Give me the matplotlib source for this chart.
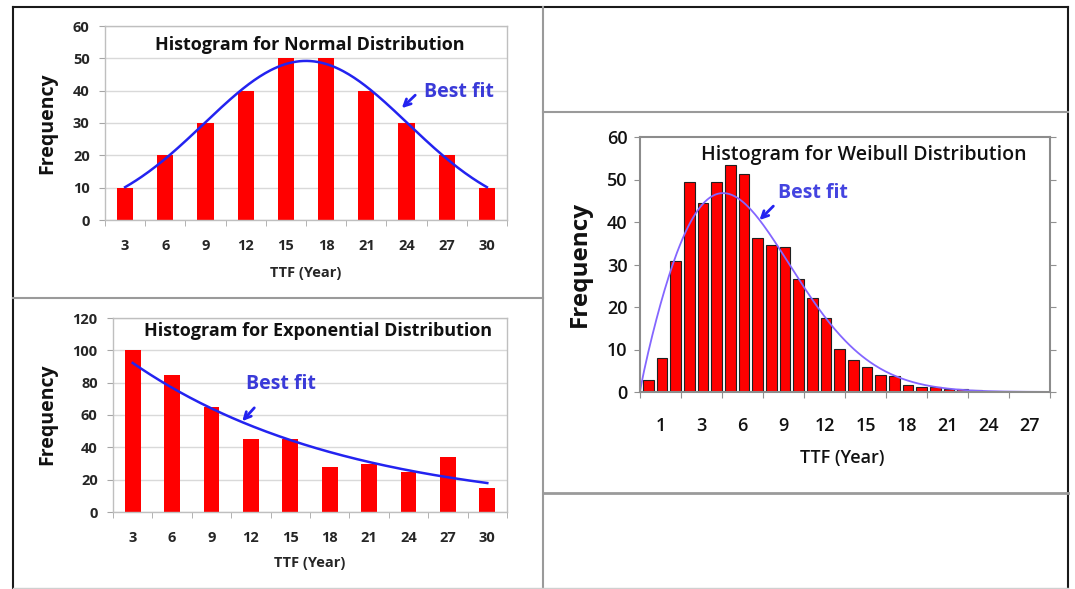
import numpy as np
import matplotlib
matplotlib.use("Agg")
import matplotlib.pyplot as plt
from matplotlib.lines import Line2D

plt.rcParams['font.family'] = ['Open Sans', 'DejaVu Sans']

W, H = 1075, 589

# ---- data ----
ttf_cats = [3, 6, 9, 12, 15, 18, 21, 24, 27, 30]
normal_freq = [10, 20, 30, 40, 50, 50, 40, 30, 20, 10]
exp_freq = [100, 85, 65, 45, 45, 28, 30, 25, 34, 15]

# weibull: one bar per year, 0..25
weibull_freq = [2.8, 7.9, 30.8, 49.4, 44.4, 49.4, 53.3, 51.3, 36.3, 34.6,
                34.2, 26.7, 22.2, 17.5, 10.2, 7.6, 6.0, 3.9, 3.8, 1.7,
                1.2, 1.2, 0.8, 0.6, 0.4]
weibull_ticklabels = ['1', '3', '6', '9', '12', '15', '18', '21', '24', '27']

# best fit parameters (estimated from the drawn curves)
normal_fit = dict(mean=16.5, sigma=7.6, peak=49.2)
exp_fit = dict(start=92.2, rate=0.0607)
weibull_fit = dict(shape=1.9, scale=9.0, peak=46.8)

RED = '#ff0000'
BLUE = '#2323f0'
TXT = '#262626'


def px_rect(x0, y0, x1, y1):
    return [x0 / W, 1 - y1 / H, (x1 - x0) / W, (y1 - y0) / H]


def fig_line(x0, y0, x1, y1, color, lw):
    fig.add_artist(Line2D([x0 / W, x1 / W], [1 - y0 / H, 1 - y1 / H],
                          transform=fig.transFigure, color=color, lw=lw))


def fig_text(x, y, s, **kw):
    fig.text(x / W, 1 - y / H, s, ha='center', va='center', **kw)


def excel_axes(ax, ymax, ystep):
    ax.set_xlim(1.5, 31.5)
    ax.set_ylim(0, ymax)
    ax.set_xticks(ttf_cats)
    ax.set_xticklabels([str(c) for c in ttf_cats])
    ax.set_xticks(np.arange(1.5, 32, 3), minor=True)
    ax.set_yticks(np.arange(0, ymax + 1, ystep))
    ax.tick_params(axis='x', which='major', length=0, pad=14,
                   labelsize=10.5, labelcolor=TXT)
    ax.tick_params(axis='x', which='minor', length=4, color='#a6a6a6',
                   direction='out')
    ax.tick_params(axis='y', length=4, color='#a6a6a6', pad=7,
                   labelsize=10.5, labelcolor=TXT)
    for lab in ax.get_xticklabels() + ax.get_yticklabels():
        lab.set_fontweight('bold')
    ax.grid(axis='y', color='#d9d9d9', lw=1)
    ax.set_axisbelow(True)
    for sp in ax.spines.values():
        sp.set_color('#bfbfbf')
        sp.set_linewidth(1)


fig = plt.figure(figsize=(W / 100, H / 100), dpi=100)

# ---- panel frames ----
fig_line(13, 7, 1068, 7, '#1a1a1a', 1.5)
fig_line(13, 7, 13, 589, '#1a1a1a', 1.5)
fig_line(1068, 7, 1068, 589, '#1a1a1a', 1.5)
fig_line(543, 7, 543, 589, '#9a9a9a', 1.5)
fig_line(13, 298, 543, 298, '#9a9a9a', 1.5)
fig_line(543, 112, 1068, 112, '#9a9a9a', 1.5)
fig_line(543, 493, 1068, 493, '#9a9a9a', 2)
fig_line(13, 588, 1068, 588, '#d0d0d0', 1)

# ---- normal ----
ax1 = fig.add_axes(px_rect(105, 26, 507, 220))
ax1.bar(ttf_cats, normal_freq, width=1.2, color=RED)
xs = np.linspace(ttf_cats[0], ttf_cats[-1], 200)
ax1.plot(xs, normal_fit['peak'] * np.exp(-(xs - normal_fit['mean']) ** 2
                                         / (2 * normal_fit['sigma'] ** 2)),
         color=BLUE, lw=1.8)
excel_axes(ax1, 60, 10)
ax1.text(0.51, 0.9, 'Histogram for Normal Distribution', transform=ax1.transAxes,
         ha='center', va='center', fontsize=13, fontweight='bold', color='#111111')
ax1.annotate('', xy=(23.5, 34), xytext=(24.8, 39.2),
             arrowprops=dict(arrowstyle='->', color=BLUE, lw=2, mutation_scale=12))
ax1.text(25.3, 39.5, 'Best fit', ha='left', va='center', fontsize=14,
         fontweight='bold', color='#3a3ad8')
fig_text(47, 123, 'Frequency', rotation=90, fontsize=14, fontweight='bold', color='#111111')
fig_text(306, 273, 'TTF (Year)', fontsize=10.5, fontweight='bold', color=TXT)

# ---- exponential ----
ax2 = fig.add_axes(px_rect(113, 318, 507, 512))
ax2.bar(ttf_cats, exp_freq, width=1.2, color=RED)
ax2.plot(xs, exp_fit['start'] * np.exp(-exp_fit['rate'] * (xs - ttf_cats[0])),
         color=BLUE, lw=1.8)
excel_axes(ax2, 120, 20)
ax2.text(0.52, 0.933, 'Histogram for Exponential Distribution', transform=ax2.transAxes,
         ha='center', va='center', fontsize=13, fontweight='bold', color='#111111')
ax2.annotate('', xy=(11.2, 54.9), xytext=(12.4, 65.7),
             arrowprops=dict(arrowstyle='->', color=BLUE, lw=2, mutation_scale=12))
ax2.text(11.6, 79.2, 'Best fit', ha='left', va='center', fontsize=14,
         fontweight='bold', color='#3a3ad8')
fig_text(47, 414, 'Frequency', rotation=90, fontsize=14, fontweight='bold', color='#111111')
fig_text(310, 563, 'TTF (Year)', fontsize=10.5, fontweight='bold', color=TXT)

# ---- weibull ----
ax3 = fig.add_axes(px_rect(640, 137, 1050, 392))
years = np.arange(len(weibull_freq))
ax3.bar(years + 0.6, weibull_freq, width=0.78, color=RED, edgecolor='#202020', lw=0.8)
k, lam = weibull_fit['shape'], weibull_fit['scale']
xw = np.linspace(0, 30, 300)
pdf = (xw / lam) ** (k - 1) * np.exp(-(xw / lam) ** k)
ax3.plot(xw, weibull_fit['peak'] * pdf / pdf.max(), color='#8466ff', lw=1.3)
ax3.set_xlim(0, 30)
ax3.set_ylim(0, 60)
ax3.set_xticks(np.arange(0, 31, 3))
ax3.set_xticklabels([])
ax3.set_xticks(np.arange(1.5, 30, 3), minor=True)
ax3.set_xticklabels(weibull_ticklabels, minor=True)
ax3.set_yticks(np.arange(0, 61, 10))
ax3.tick_params(axis='x', which='major', length=4, color='#909090', direction='out')
ax3.tick_params(axis='x', which='minor', length=0, pad=18, labelsize=13,
                labelcolor='#111111')
ax3.tick_params(axis='y', length=4, color='#909090', direction='out', pad=5,
                labelsize=13, labelcolor='#111111', right=True)
for lab in ax3.get_xticklabels(minor=True) + ax3.get_yticklabels():
    lab.set_fontweight('semibold')
for sp in ax3.spines.values():
    sp.set_color('#8c8c8c')
    sp.set_linewidth(1.5)
ax3.text(0.545, 0.93, 'Histogram for Weibull Distribution', transform=ax3.transAxes,
         ha='center', va='center', fontsize=14, fontweight='semibold', color='#111111')
ax3.annotate('', xy=(8.6, 40), xytext=(9.9, 44.2),
             arrowprops=dict(arrowstyle='->', color=BLUE, lw=2, mutation_scale=12))
ax3.text(10.1, 46.8, 'Best fit', ha='left', va='center', fontsize=14,
         fontweight='bold', color='#4444e0')
fig_text(580, 264, 'Frequency', rotation=90, fontsize=17.5, fontweight='bold', color='#111111')
fig_text(842, 458, 'TTF (Year)', fontsize=13, fontweight='semibold', color='#111111')

fig.savefig('out.png', dpi=100, facecolor='white')
